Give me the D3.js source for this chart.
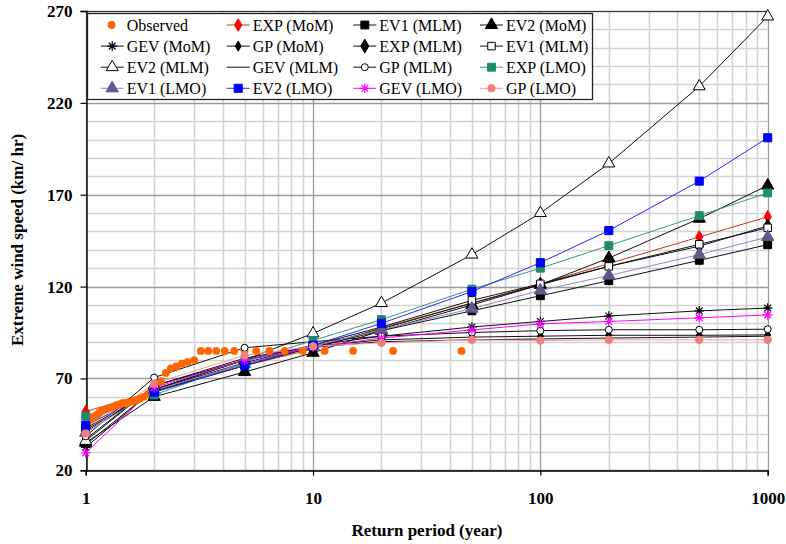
<!DOCTYPE html>
<html>
<head>
<meta charset="utf-8">
<script src="https://cdn.jsdelivr.net/npm/d3@7/dist/d3.min.js"></script>
<style>
  html, body { margin: 0; padding: 0; background: #fff; }
  svg { display: block; font-family: "Liberation Serif", "DejaVu Serif", serif; }
</style>
</head>
<body>
<svg id="chart" width="786" height="544"></svg>
<script>
// ---------------- DATA ----------------
const returnPeriods = [1, 2, 5, 10, 20, 50, 100, 200, 500, 1000];
const yTicks = [20, 70, 120, 170, 220, 270];
const xTicks = [1, 10, 100, 1000];

const observedT = [45, 22.5, 15, 11.25, 9, 7.5, 6.43, 5.63, 5, 4.5, 4.09, 3.75, 3.46, 3.21,
  3, 2.81, 2.65, 2.5, 2.37, 2.25, 2.14, 2.05, 1.96, 1.88, 1.8, 1.73, 1.67, 1.61, 1.55, 1.5,
  1.45, 1.41, 1.36, 1.32, 1.29, 1.25, 1.22, 1.18, 1.15, 1.13, 1.1, 1.07, 1.05, 1.02];
const observedV = [85, 85, 85, 85, 85, 85, 85, 85, 85, 85, 85, 85, 85, 85,
  80, 79, 78, 76.5, 75.5, 73, 68.5, 67, 64, 61.5, 60, 59, 58, 57.5, 57, 56.5,
  56.5, 56, 55.5, 54.5, 54, 53.5, 53, 52.5, 51.5, 50.5, 49.5, 49, 47.5, 46.5];

const expMoM   = [52, 63, 77, 86, 97.5, 111, 121.5, 132.5, 147, 158];
const ev1MLMa  = [43, 63, 78, 87, 96, 106.8, 115, 123.2, 134.3, 142.8];
const ev2MoM   = [35, 60, 73.5, 84, 96, 110, 121, 135.5, 157, 175];
const gevMoM   = [32.5, 64, 80, 88, 93, 98, 101, 104, 106.8, 108.3];
const gpMoM    = [37, 66, 81, 87.5, 91, 92.5, 93, 93.5, 93.5, 93.7];
const expMLM   = [42, 63, 77, 87, 97, 111, 121, 131, 142, 153];
const ev1MLMb  = [41, 64, 78.5, 88, 98, 112.5, 121.5, 131, 143, 152];
const ev2MLM   = [36, 66, 80, 94.5, 111, 137.4, 160, 187, 229, 267];
const gevMLM   = [34, 64, 80, 87, 90, 91, 91.5, 92, 92.5, 93];
const gpMLM    = [38.5, 70.5, 86.7, 90, 93, 95, 96, 96.5, 96.5, 96.8];
const expLMO   = [49.5, 61, 79, 90.7, 102, 118.6, 130, 142.3, 158.6, 171];
const ev1LMO   = [40.5, 63.5, 78, 87.5, 96.5, 108, 117.9, 126, 137.4, 147];
const ev2LMO   = [44.5, 62.5, 77, 88, 100, 117.3, 133, 150.5, 177.4, 201];
const gevLMO   = [29.5, 65, 80, 87, 92, 96.4, 99.7, 101, 103, 104.6];
const gpLMO    = [40, 67.3, 82.6, 87.5, 89.4, 91, 90.6, 91, 91, 91];

// series: name, values, line colour, marker, marker fill, marker stroke
const series = [
  { name: "EXP (MoM)", v: expMoM,  line: "#c0391b", m: "diamond", fill: "#ff0000", stroke: "#ff0000", size: 45 },
  { name: "EV1 (MLM)", v: ev1MLMa, line: "#111",    m: "square",  fill: "#000",    stroke: "#000",    size: 62 },
  { name: "EV2 (MoM)", v: ev2MoM,  line: "#111",    m: "triangle",fill: "#000",    stroke: "#000",    size: 66 },
  { name: "GEV (MoM)", v: gevMoM,  line: "#111",    m: "star",    fill: "none",    stroke: "#000",    size: 4.8 },
  { name: "GP (MoM)",  v: gpMoM,   line: "#111",    m: "diamond", fill: "#000",    stroke: "#000",    size: 30 },
  { name: "EXP (MLM)", v: expMLM,  line: "#111",    m: "diamond", fill: "#000",    stroke: "#000",    size: 56 },
  { name: "EV1 (MLM)", v: ev1MLMb, line: "#111",    m: "square",  fill: "#fff",    stroke: "#000",    size: 56 },
  { name: "EV2 (MLM)", v: ev2MLM,  line: "#111",    m: "triangle",fill: "#fff",    stroke: "#000",    size: 62 },
  { name: "GEV (MLM)", v: gevMLM,  line: "#111",    m: "none",    fill: "none",    stroke: "none",    size: 0 },
  { name: "GP (MLM)",  v: gpMLM,   line: "#111",    m: "circle",  fill: "#fff",    stroke: "#000",    size: 38 },
  { name: "EXP (LMO)", v: expLMO,  line: "#3a9a78", m: "square",  fill: "#1f8a6e", stroke: "#1f8a6e", size: 62 },
  { name: "EV1 (LMO)", v: ev1LMO,  line: "#8c8cc0", m: "triangle",fill: "#5c5c8c", stroke: "#5c5c8c", size: 66 },
  { name: "EV2 (LMO)", v: ev2LMO,  line: "#2a2aff", m: "square",  fill: "#0000ff", stroke: "#0000ff", size: 66 },
  { name: "GEV (LMO)", v: gevLMO,  line: "#ff00ff", m: "star",    fill: "none",    stroke: "#ff00ff", size: 4.8 },
  { name: "GP (LMO)",  v: gpLMO,   line: "#ff9a9a", m: "circle",  fill: "#f08080", stroke: "#f08080", size: 44 }
];
const legendOrder = ["Observed", "EXP (MoM)", "EV1 (MLM)", "EV2 (MoM)",
  "GEV (MoM)", "GP (MoM)", "EXP (MLM)", "EV1 (MLM)",
  "EV2 (MLM)", "GEV (MLM)", "GP (MLM)", "EXP (LMO)",
  "EV1 (LMO)", "EV2 (LMO)", "GEV (LMO)", "GP (LMO)"];

// ---------------- DRAW ----------------
const svg = d3.select("#chart");
const x = d3.scaleLog().domain([1, 1000]).range([85.7, 767.7]);
const y = d3.scaleLinear().domain([20, 270]).range([470.3, 11]);

// grid
const grid = svg.append("g");
const minorX = [];
for (let d = 1; d < 1000; d *= 10) for (let k = 2; k <= 9; k++) minorX.push(d * k);
grid.selectAll(".mx").data(minorX).enter().append("line")
  .attr("x1", d => Math.round(x(d)) + 0.5).attr("x2", d => Math.round(x(d)) + 0.5)
  .attr("y1", y(270)).attr("y2", y(20))
  .attr("stroke", "#d2d2d2").attr("stroke-width", 1.6);
const minorY = d3.range(30, 270, 10).filter(v => (v - 20) % 50 !== 0);
grid.selectAll(".my").data(minorY).enter().append("line")
  .attr("x1", x(1)).attr("x2", x(1000))
  .attr("y1", d => Math.round(y(d)) + 0.5).attr("y2", d => Math.round(y(d)) + 0.5)
  .attr("stroke", "#d2d2d2").attr("stroke-width", 1.6);
grid.selectAll(".MX").data(xTicks).enter().append("line")
  .attr("x1", d => Math.round(x(d)) + 0.5).attr("x2", d => Math.round(x(d)) + 0.5)
  .attr("y1", y(270)).attr("y2", y(20))
  .attr("stroke", "#9a9a9a").attr("stroke-width", 1.3);
grid.selectAll(".MY").data(yTicks).enter().append("line")
  .attr("x1", x(1)).attr("x2", x(1000))
  .attr("y1", d => Math.round(y(d)) + 0.5).attr("y2", d => Math.round(y(d)) + 0.5)
  .attr("stroke", "#9a9a9a").attr("stroke-width", 1.3);
// top border
svg.append("line").attr("x1", x(1)).attr("x2", x(1000) + 1)
  .attr("y1", Math.round(y(270)) + 0.5).attr("y2", Math.round(y(270)) + 0.5)
  .attr("stroke", "#333").attr("stroke-width", 1.2);

// axes
const yAxis = d3.axisLeft(y).tickValues(yTicks).tickSize(6).tickPadding(8).tickFormat(d3.format("d"));
const gy = svg.append("g").attr("transform", `translate(${Math.round(x(1)) + 0.5},0)`).call(yAxis);
const xAxis = d3.axisBottom(x).tickValues(xTicks).tickSize(5).tickPadding(16).tickFormat(d3.format("d"));
const gx = svg.append("g").attr("transform", `translate(0,${Math.round(y(20)) + 0.5})`).call(xAxis);
[gx, gy].forEach(g => {
  g.select(".domain").attr("stroke", "#000").attr("stroke-width", 1.4);
  g.selectAll(".tick line").attr("stroke", "#000").attr("stroke-width", 1.2);
  g.selectAll(".tick text").attr("fill", "#000")
    .style("font-family", '"Liberation Serif", serif').style("font-size", "17px").style("font-weight", "bold");
});

// axis titles
svg.append("text").attr("x", 427).attr("y", 536).attr("text-anchor", "middle")
  .style("font-size", "17px").style("font-weight", "bold").text("Return period (year)");
svg.append("text").attr("transform", "translate(23,240) rotate(-90)").attr("text-anchor", "middle")
  .style("font-size", "17px").style("font-weight", "bold").text("Extreme wind speed (km/ hr)");

// marker helper
function drawMarker(g, s, cx, cy) {
  if (s.m === "none") return;
  if (s.m === "star") {
    const r = s.size;
    const p = `M${cx - r},${cy}L${cx + r},${cy}M${cx - r * 0.7},${cy - r * 0.7}L${cx + r * 0.7},${cy + r * 0.7}` +
      `M${cx - r * 0.7},${cy + r * 0.7}L${cx + r * 0.7},${cy - r * 0.7}M${cx},${cy - r}L${cx},${cy + r}`;
    g.append("path").attr("d", p).attr("stroke", s.stroke).attr("stroke-width", 1.2).attr("fill", "none");
    return;
  }
  const type = { square: d3.symbolSquare, triangle: d3.symbolTriangle, diamond: d3.symbolDiamond, circle: d3.symbolCircle }[s.m];
  g.append("path").attr("d", d3.symbol().type(type).size(s.size)())
    .attr("transform", `translate(${cx},${cy})`)
    .attr("fill", s.fill).attr("stroke", s.stroke).attr("stroke-width", 1);
}

// lines
const line = d3.line().x((d, i) => x(returnPeriods[i])).y(d => y(d));
const linesG = svg.append("g");
series.forEach(s => {
  linesG.append("path").attr("d", line(s.v)).attr("fill", "none")
    .attr("stroke", s.line).attr("stroke-width", 1);
});

// observed
svg.append("g").selectAll("circle").data(observedT).enter().append("circle")
  .attr("cx", d => x(d)).attr("cy", (d, i) => y(observedV[i])).attr("r", 3.9)
  .attr("fill", "#ff6600");

// markers
const markG = svg.append("g");
series.forEach(s => {
  s.v.forEach((v, i) => drawMarker(markG, s, x(returnPeriods[i]), y(v)));
});

// legend
const lg = svg.append("g");
lg.append("rect").attr("x", 87.5).attr("y", 13.5).attr("width", 505).attr("height", 86)
  .attr("fill", "#fff").attr("stroke", "#222").attr("stroke-width", 1.3);
const colX = [100.7, 226.7, 353.3, 480];
const colText = [126.7, 252.7, 379.3, 506];
let usedEV1 = 0;
legendOrder.forEach((name, idx) => {
  const r = Math.floor(idx / 4), c = idx % 4;
  const cy = 25 + r * 21.1;
  const gx0 = colX[c];
  if (name === "Observed") {
    lg.append("circle").attr("cx", 111.5).attr("cy", cy).attr("r", 3.9).attr("fill", "#ff6600");
  } else {
    let s;
    if (name === "EV1 (MLM)") { s = series.filter(d => d.name === name)[usedEV1]; usedEV1++; }
    else s = series.find(d => d.name === name);
    lg.append("line").attr("x1", gx0).attr("x2", gx0 + 23).attr("y1", cy).attr("y2", cy)
      .attr("stroke", s.line).attr("stroke-width", 1);
    drawMarker(lg, s, gx0 + 11.5, cy);
  }
  lg.append("text").attr("x", colText[c]).attr("y", cy + 5.5)
    .style("font-size", "16px").text(name);
});
</script>
</body>
</html>
